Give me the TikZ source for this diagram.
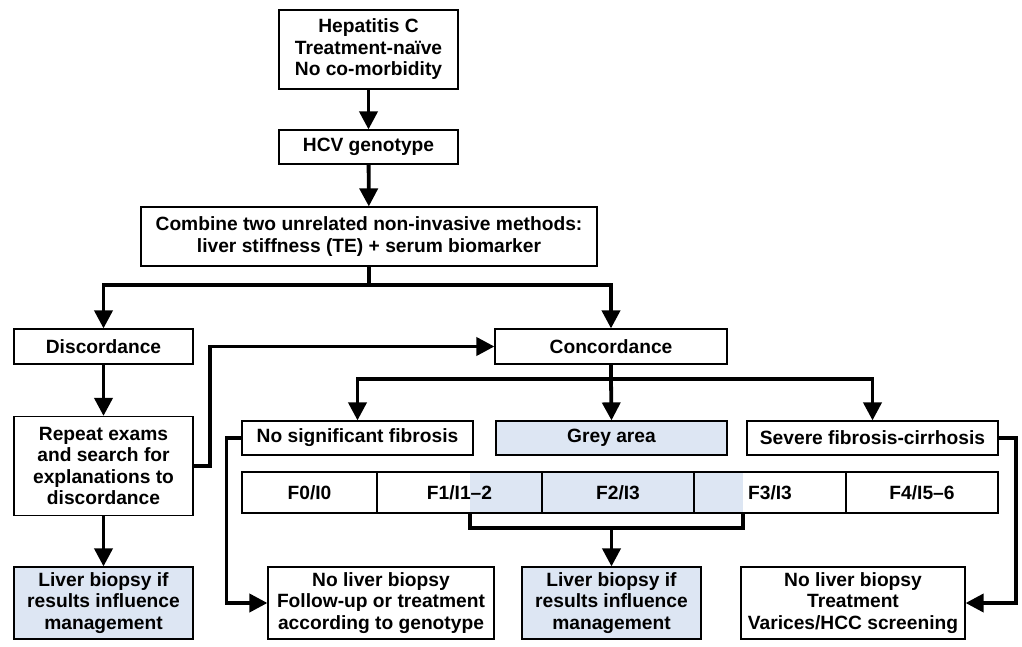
\documentclass[tikz,border=0pt]{standalone}
\usepackage{fontspec}
\setmainfont{Liberation Sans}
\usetikzlibrary{arrows.meta}
\definecolor{paleblue}{RGB}{221,230,243}
\begin{document}
\begin{tikzpicture}[x=1pt,y=-1pt,
  box/.style={draw=black, line width=1.2pt, rectangle, inner sep=0pt, align=center,
    font=\bfseries\fontsize{19.2}{21.5}\selectfont},
  shaded/.style={box, fill=paleblue},
  conn/.style={line width=3.8pt, line join=miter},
  arr/.style={conn, -{Triangle[length=18pt,width=18pt]}}]
\useasboundingbox (0,0) rectangle (1022,647);
% boxes
\node[box, minimum width=179pt, minimum height=79pt] (top) at (368.5,49.5) {Hepatitis C\\Treatment-naïve\\No co-morbidity};
\node[box, minimum width=179pt, minimum height=34pt] (hcv) at (368.5,147) {HCV genotype};
\node[box, minimum width=456pt, minimum height=59pt] (comb) at (369,236.5) {Combine two unrelated non-invasive methods:\\liver stiffness (TE) + serum biomarker};
\node[box, minimum width=179pt, minimum height=35pt] (disc) at (103.5,346.5) {Discordance};
\node[box, minimum width=232pt, minimum height=35pt] (conc) at (611,346.5) {Concordance};
\node[box, minimum width=179pt, minimum height=99pt] (rep) at (103.5,466) {Repeat exams\\and search for\\explanations to\\discordance};
\node[box, minimum width=231pt, minimum height=34pt] (nsf) at (357.5,438) {No significant fibrosis};
\node[shaded, minimum width=231pt, minimum height=34pt] (grey) at (611.5,438) {Grey area};
\node[box, minimum width=251pt, minimum height=34pt] (sev) at (872.5,438) {Severe fibrosis-cirrhosis};
% F row
\fill[paleblue] (470,472) rectangle (743,513);
\node[box, minimum width=135pt, minimum height=41pt] (f0) at (309.5,492.5) {F0/I0};
\node[box, minimum width=165pt, minimum height=41pt] (f1) at (459.5,492.5) {F1/I1–2};
\node[box, minimum width=152pt, minimum height=41pt] (f2) at (618,492.5) {F2/I3};
\node[box, minimum width=152pt, minimum height=41pt] (f3) at (770,492.5) {F3/I3};
\node[box, minimum width=152pt, minimum height=41pt] (f4) at (922,492.5) {F4/I5–6};
% bottom row
\node[shaded, minimum width=179pt, minimum height=72pt] (lbl) at (103.5,603) {Liver biopsy if\\results influence\\management};
\node[box, minimum width=226pt, minimum height=72pt] (nlb) at (381,603) {No liver biopsy\\Follow-up or treatment\\according to genotype};
\node[shaded, minimum width=179pt, minimum height=72pt] (lbm) at (611.5,603) {Liver biopsy if\\results influence\\management};
\node[box, minimum width=224pt, minimum height=72pt] (nlt) at (853,603) {No liver biopsy\\Treatment\\Varices/HCC screening};
% coordinates
\coordinate (s1) at (369,285);
\coordinate (s2) at (611,379);
\coordinate (b1) at (470,513);
\coordinate (b2) at (743,513);
\coordinate (bm) at (611.5,528);
% connectors
\draw[arr] (top) -- (hcv);
\draw[arr] (hcv) -- (comb);
\draw[conn] (comb.south) -- (s1);
\draw[arr] (s1) -| (disc.north);
\draw[arr] (s1) -| (conc.north);
\draw[arr] (disc) -- (rep);
\draw[arr] (rep) -- (lbl);
\draw[arr] (rep.east) -- ++(16,0) |- (conc.west);
\draw[conn] (conc.south) -- (s2);
\draw[arr] (s2) -| (nsf.north);
\draw[arr] (s2) -- (grey.north);
\draw[arr] (s2) -| (sev.north);
\draw[conn] (b1) |- (bm) -| (b2);
\draw[arr] (bm) -- (lbm.north);
\draw[arr] (nsf.west) -- ++(-15,0) |- (nlb.west);
\draw[arr] (sev.east) -- ++(17,0) |- (nlt.east);
\end{tikzpicture}
\end{document}
